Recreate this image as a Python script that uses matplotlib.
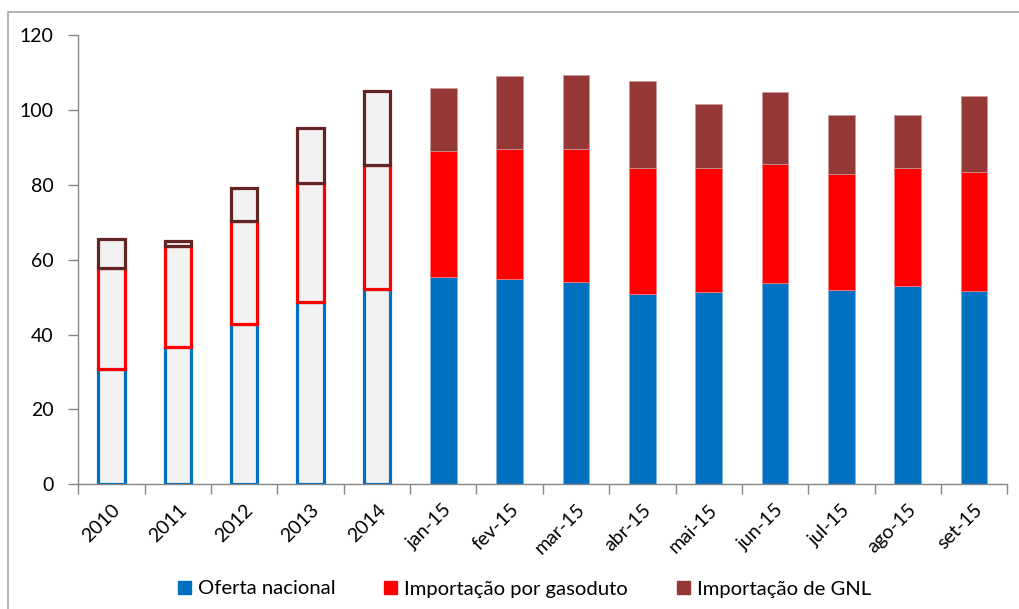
import numpy as np
import matplotlib.pyplot as plt
from matplotlib.patches import Rectangle

plt.rcParams['font.family'] = ['Lato', 'DejaVu Sans']

# periods: five yearly averages followed by the 2015 months
periods = ['2010', '2011', '2012', '2013', '2014', 'jan-15', 'fev-15', 'mar-15',
           'abr-15', 'mai-15', 'jun-15', 'jul-15', 'ago-15', 'set-15']
oferta = np.array([30.9, 36.6, 42.9, 48.6, 52.2, 55.3, 54.9, 53.9, 50.7, 51.3, 53.8, 51.9, 53.0, 51.6])
gasoduto = np.array([27.0, 27.0, 27.5, 31.9, 33.1, 33.7, 34.6, 35.6, 33.7, 33.2, 31.7, 30.9, 31.6, 31.8])
gnl = np.array([7.7, 1.5, 8.8, 14.7, 19.8, 16.9, 19.5, 19.7, 23.3, 17.1, 19.2, 15.8, 14.0, 20.2])
n_annual = 5

c_blue = '#0070C0'
c_red = '#FF0000'
c_gnl = '#953735'
c_gnl_edge = '#632523'
c_fill = '#F2F2F2'
axis_gray = '#868686'
fs = 14

fig = plt.figure(figsize=(10.19, 6.09), dpi=100)
# thin frame around the chart area
fig.patches.append(Rectangle((8 / 1019, -0.1), 1.2, 1 - 12 / 609 + 0.1, transform=fig.transFigure,
                             fill=False, edgecolor='#A6A6A6', linewidth=1.2))

ax = fig.add_axes([78.3 / 1019, (609 - 484.3) / 609, 929 / 1019, 449.3 / 609])

x = np.arange(len(periods))
w = 0.4
bottom2 = oferta
bottom3 = oferta + gasoduto

ya = slice(0, n_annual)
ym = slice(n_annual, None)

# yearly averages: light fill with coloured outlines
ax.bar(x[ya], oferta[ya], w, color=c_fill, edgecolor=c_blue, linewidth=2.3, zorder=2)
ax.bar(x[ya], gasoduto[ya], w, bottom=bottom2[ya], color=c_fill, edgecolor=c_red, linewidth=2.3, zorder=3)
ax.bar(x[ya], gnl[ya], w, bottom=bottom3[ya], color=c_fill, edgecolor=c_gnl_edge, linewidth=2.3, zorder=4)

# monthly values: solid bars
ax.bar(x[ym], oferta[ym], w, color=c_blue, edgecolor='#7FB3DD', linewidth=0.5, zorder=2)
ax.bar(x[ym], gasoduto[ym], w, bottom=bottom2[ym], color=c_red, edgecolor='#FF8080', linewidth=0.5, zorder=2)
ax.bar(x[ym], gnl[ym], w, bottom=bottom3[ym], color=c_gnl, edgecolor='#CA9B9A', linewidth=0.5, zorder=2)

ax.set_xlim(-0.5, len(periods) - 0.5)
ax.set_ylim(0, 120)
ax.set_yticks(np.arange(0, 121, 20))
ax.tick_params(axis='y', direction='out', length=7, color=axis_gray, width=1, labelsize=fs, pad=11)

ax.set_xticks(x)
ax.set_xticklabels(periods, rotation=45, ha='right', va='top', rotation_mode='anchor', fontsize=fs)
ax.set_xticks(np.arange(-0.5, len(periods), 1), minor=True)
ax.tick_params(axis='x', which='major', length=0, pad=12)
ax.tick_params(axis='x', which='minor', direction='out', length=7, color=axis_gray, width=1)

for s in ['top', 'right']:
    ax.spines[s].set_visible(False)
for s in ['left', 'bottom']:
    ax.spines[s].set_color(axis_gray)
    ax.spines[s].set_linewidth(1)
    ax.spines[s].set_zorder(5)

handles = [Rectangle((0, 0), 1, 1, color=c) for c in (c_blue, c_red, c_gnl)]
labels = ['Oferta nacional', 'Importação por gasoduto', 'Importação de GNL']
fig.legend(handles, labels, loc='center', bbox_to_anchor=(524.5 / 1019, 1 - 589 / 609), ncol=3,
           frameon=False, fontsize=14.6, handlelength=0.65, handleheight=0.65,
           handletextpad=0.35, columnspacing=2.4)

fig.savefig('out.png', dpi=100)
